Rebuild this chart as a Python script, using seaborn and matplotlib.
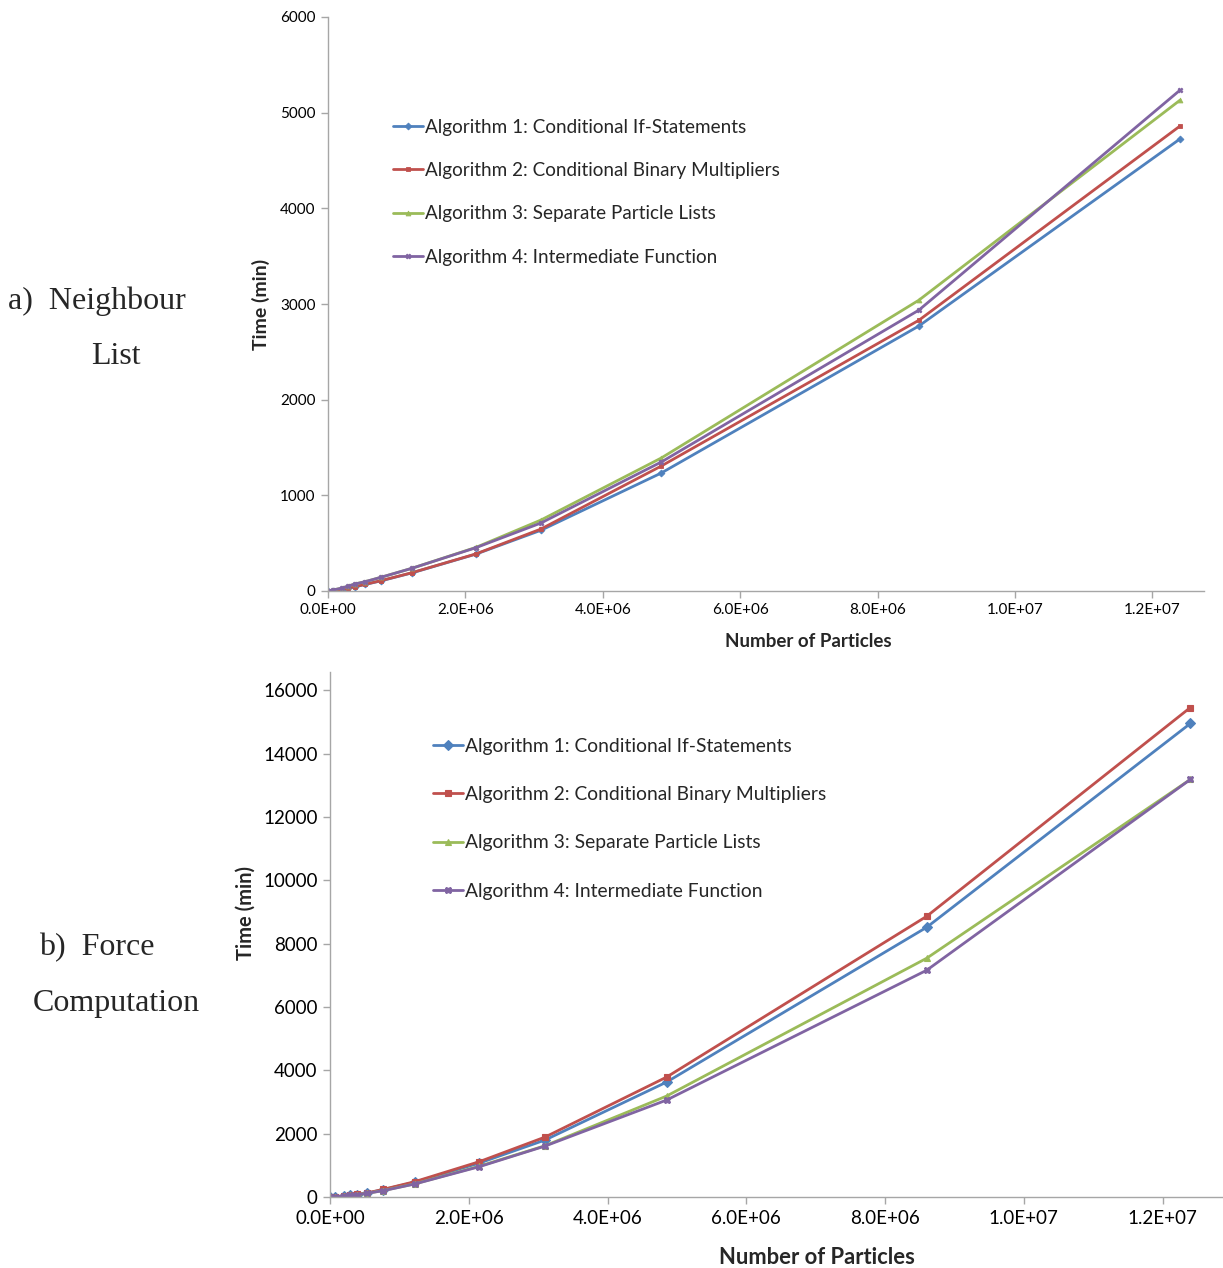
import numpy as np
import pandas as pd
import matplotlib
matplotlib.use("Agg")
import matplotlib.pyplot as plt
from matplotlib.ticker import FuncFormatter, MultipleLocator
import seaborn as sns

# ---------------- data ----------------
particles = [0, 0.07e6, 0.2e6, 0.29e6, 0.39e6, 0.54e6, 0.77e6, 1.22e6,
             2.15e6, 3.1e6, 4.85e6, 8.6e6, 12.4e6]

algorithms = ["Algorithm 1: Conditional If-Statements",
              "Algorithm 2: Conditional Binary Multipliers",
              "Algorithm 3: Separate Particle Lists",
              "Algorithm 4: Intermediate Function"]

# a) Neighbour list time (min)
nl_alg1 = [0, 5, 15, 28, 44, 68, 106, 189, 385, 635, 1233, 2770, 4725]
nl_alg2 = [0, 5, 15, 30, 45, 70, 108, 191, 387, 648, 1306, 2830, 4860]
nl_alg3 = [0, 10, 30, 50, 73, 97, 143, 237, 455, 742, 1390, 3040, 5130]
nl_alg4 = [0, 10, 30, 50, 73, 97, 143, 237, 452, 711, 1348, 2936, 5235]

# b) Force computation time (min)
fc_alg1 = [0, 10, 33, 52, 77, 125, 235, 465, 1070, 1800, 3628, 8517, 14953]
fc_alg2 = [0, 10, 35, 55, 80, 130, 243, 483, 1114, 1893, 3785, 8864, 15457]
fc_alg3 = [0, 10, 30, 50, 70, 120, 205, 415, 970, 1620, 3186, 7540, 13186]
fc_alg4 = [0, 10, 30, 50, 70, 120, 200, 410, 956, 1609, 3060, 7161, 13186]

colors = ["#4F81BD", "#C0504D", "#9BBB59", "#8064A2"]
markers = ["D", "s", "^", "X"]


def long_frame(series):
    rows = []
    for name, vals in zip(algorithms, series):
        for x, y in zip(particles, vals):
            rows.append({"Particles": x, "Time": y, "Algorithm": name})
    return pd.DataFrame(rows)


df_nl = long_frame([nl_alg1, nl_alg2, nl_alg3, nl_alg4])
df_fc = long_frame([fc_alg1, fc_alg2, fc_alg3, fc_alg4])

sns.set_style("white")
plt.rcParams["font.family"] = ["Lato", "DejaVu Sans"]

W, H = 1223, 1268
fig = plt.figure(figsize=(W / 100, H / 100), dpi=100)

ax1 = fig.add_axes([328 / W, 1 - 591 / H, (1204 - 328) / W, (591 - 17) / H])
ax2 = fig.add_axes([330 / W, 1 - 1197 / H, (1223 - 330) / W, (1197 - 672) / H])

pal = dict(zip(algorithms, colors))
mk = dict(zip(algorithms, markers))

sns.lineplot(data=df_nl, x="Particles", y="Time", hue="Algorithm", style="Algorithm",
             palette=pal, markers=mk, dashes=False, ax=ax1, linewidth=2.0,
             markersize=3.5, markeredgewidth=0.6, legend=True)
sns.lineplot(data=df_fc, x="Particles", y="Time", hue="Algorithm", style="Algorithm",
             palette=pal, markers=mk, dashes=False, ax=ax2, linewidth=2.0,
             markersize=5, markeredgewidth=0.8, legend=True)

sci = FuncFormatter(lambda v, p: f"{v:.1E}")
intf = FuncFormatter(lambda v, p: f"{int(round(v))}")

# ax, xlim, ylim, ystep, tick fs, xlabel fs, ylabel fs, xlabel coords, ylabel coords
configs = [
    (ax1, (0, 12.75e6), (0, 6000), 1000, 11, 13.5, 14,
     (0.548, -42 / 574), (-58 / 876, 0.5)),
    (ax2, (0, 12.87e6), (0, 16578), 2000, 13.5, 15.8, 14.5,
     (0.545, -50 / 525), (-74 / 893, (1197 - 913) / (1197 - 672))),
]
for ax, xl, yl, ystep, tfs, xlfs, ylfs, xlc, ylc in configs:
    ax.set_xlim(*xl)
    ax.set_ylim(*yl)
    ax.xaxis.set_major_locator(MultipleLocator(2e6))
    ax.yaxis.set_major_locator(MultipleLocator(ystep))
    ax.xaxis.set_major_formatter(sci)
    ax.yaxis.set_major_formatter(intf)
    for s in ["top", "right"]:
        ax.spines[s].set_visible(False)
    for s in ["left", "bottom"]:
        ax.spines[s].set_color("#A6A6A6")
        ax.spines[s].set_linewidth(1.0)
    ax.tick_params(axis="both", which="major", direction="out", length=5,
                   width=1.0, color="#A6A6A6", labelsize=tfs, labelcolor="black",
                   bottom=True, left=True, pad=4)
    ax.set_xlabel("Number of Particles", fontsize=xlfs, fontweight="bold")
    ax.xaxis.set_label_coords(*xlc)
    ax.set_ylabel("Time (min)", fontsize=ylfs, fontweight="bold")
    ax.yaxis.set_label_coords(*ylc)
    ax.grid(False)
    for ln in ax.lines:
        ln.set_markeredgecolor(ln.get_color())

h1, l1 = ax1.get_legend_handles_labels()
leg1 = ax1.legend(h1, l1, loc="upper left", bbox_to_anchor=(57 / 876, 1 - 94 / 574),
                  frameon=False, fontsize=13.6, handlelength=1.6, handletextpad=0.12,
                  labelspacing=1.4, borderaxespad=0)
h2, l2 = ax2.get_legend_handles_labels()
leg2 = ax2.legend(h2, l2, loc="upper left", bbox_to_anchor=(95 / 893, 1 - 58 / 525),
                  frameon=False, fontsize=13.9, handlelength=1.55, handletextpad=0.12,
                  labelspacing=1.62, borderaxespad=0)
for leg in (leg1, leg2):
    for ln in leg.get_lines():
        ln.set_markeredgecolor(ln.get_color())

serif = ["Liberation Serif", "DejaVu Serif"]
fig.text(97 / W, 1 - 301 / H, "a)  Neighbour", ha="center", va="center",
         fontsize=23, family=serif)
fig.text(116 / W, 1 - 356 / H, "List", ha="center", va="center",
         fontsize=23, family=serif)
fig.text(97 / W, 1 - 948 / H, "b)  Force", ha="center", va="center",
         fontsize=23, family=serif)
fig.text(116 / W, 1 - 1003 / H, "Computation", ha="center", va="center",
         fontsize=23, family=serif)

fig.savefig("out.png", dpi=100)
